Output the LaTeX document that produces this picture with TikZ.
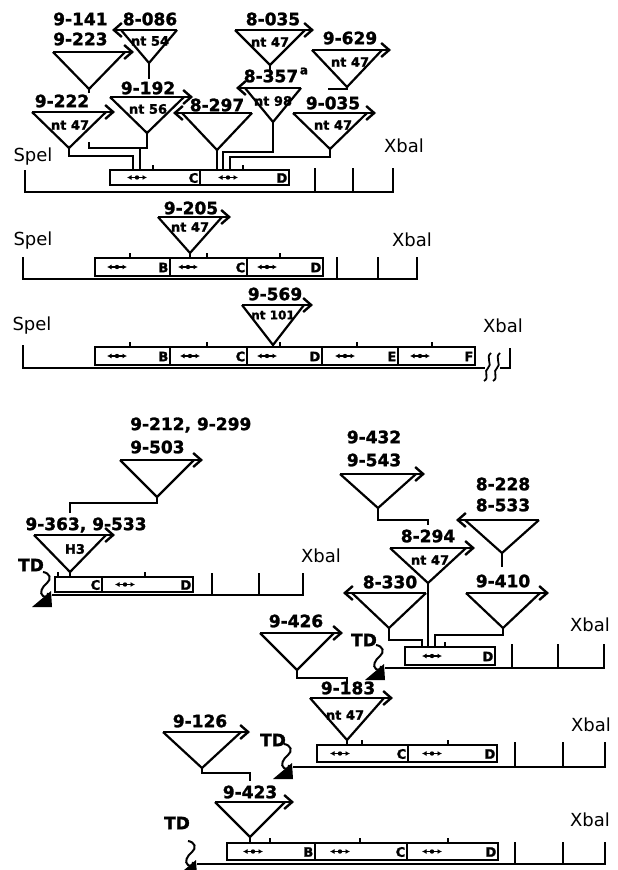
\documentclass[tikz,border=0pt]{standalone}
\usepackage{fontspec}
\setmainfont{DejaVu Sans}[BoldFeatures={FakeBold=1.5}]
\usetikzlibrary{arrows.meta}
\tikzset{
  tri/.style={line width=2.2pt, line join=miter},
  trarr/.style={line width=2.2pt, -{Straight Barb[length=8pt,width=14pt,line width=2.4pt]}},
  base/.style={line width=2.6pt},
  stem/.style={line width=1.6pt},
  tick/.style={line width=1.4pt},
  boxsty/.style={draw, line width=1.5pt, fill=white},
  lab/.style={font=\bfseries\fontsize{17}{17}\selectfont, inner sep=0pt},
  ntl/.style={font=\bfseries\fontsize{13}{13}\selectfont, inner sep=0pt},
  site/.style={font=\fontsize{18}{18}\selectfont, inner sep=0pt},
  bl/.style={font=\bfseries\fontsize{13}{13}\selectfont, inner sep=0pt, anchor=east},
  tdl/.style={font=\bfseries\fontsize{17}{17}\selectfont, inner sep=0pt},
  ar/.style={line width=1.3pt, {Latex[length=4.5pt,width=5pt]}-{Latex[length=4.5pt,width=5pt]}},
}
% triangle: name, cx, top y, half width, height, direction (1 right, -1 left)
\newcommand{\Tri}[6]{%
  \coordinate (#1) at (#2,{#3+#5});
  \fill[white] ({#2-#4},#3) -- (#1) -- ({#2+#4},#3) -- cycle;
  \draw[tri] ({#2-#4},#3) -- (#1) -- ({#2+#4},#3);
  \draw[trarr] ({#2-(#6)*(#4)},#3) -- ({#2+(#6)*(#4+9)},#3);
}
% segment: name, x1, x2, y1, y2, letter, arrow x
\newcommand{\Seg}[7]{%
  \draw[boxsty] (#2,#4) rectangle (#3,#5);
  \node[bl] (#1) at ({#3-1.5},{(#4+#5)/2+0.5}) {#6};
  \draw[ar] ({#7-10},{(#4+#5)/2}) -- ({#7+10},{(#4+#5)/2});
  \fill ({#7},{(#4+#5)/2}) circle (2.2pt);
}
\newcommand{\SegN}[6]{%
  \draw[boxsty] (#2,#4) rectangle (#3,#5);
  \node[bl] (#1) at ({#3-1.5},{(#4+#5)/2+0.5}) {#6};
}
% TD mark at baseline start
\newcommand{\TDmark}[2]{%
  \fill ({#1-20},{#2+12}) -- ({#1-1},{#2-4}) -- ({#1},{#2+12}) -- cycle;
  \draw[line width=2pt] ({#1-9},{#2-23}) .. controls ({#1-2},{#2-22}) and ({#1},{#2-16}) .. ({#1-5},{#2-12}) .. controls ({#1-10},{#2-8}) and ({#1-13},{#2-2}) .. ({#1-9},{#2+1}) .. controls ({#1-6},{#2+3}) and ({#1-4},{#2+1}) .. ({#1-4},{#2-2});
}
\begin{document}
\begin{tikzpicture}[x=1pt,y=-1pt]
\useasboundingbox (0,0) rectangle (618,870);
\clip (0,0) rectangle (618,870);

% ================= Row 1 =================
\draw[base] (25,170) -- (25,192) -- (393,192) -- (393,168);
\draw[base] (315,168) -- (315,192);
\draw[base] (353,168) -- (353,192);
\Seg{r1c}{110}{200}{170}{185}{C}{137}
\Seg{r1d}{200}{289}{170}{185}{D}{228}
\draw[tick] (153,165) -- (153,170);
\draw[tick] (243,165) -- (243,170);

\Tri{a9223}{89}{52}{36}{37}{1}
\Tri{a8086}{149}{30}{28}{33}{-1}
\Tri{a8035}{270}{30}{35}{35}{1}
\Tri{a9629}{347}{50}{35}{37}{1}
\Tri{a9222}{69}{112}{37}{36}{1}
\Tri{a9192}{147}{97}{37}{36}{1}
\Tri{a8297}{217}{113}{35}{37}{-1}
\Tri{a8357}{273}{88}{28}{34}{-1}
\Tri{a9035}{330}{113}{37}{36}{1}

\draw[stem] (a9222) -- (69,156) -- (133,156) -- (133,170);
\coordinate (f1) at (89,142);
\draw[stem] (f1) -- (89,148) -- (140,148) -- (140,170);
\draw[stem] (a9192) -- (147,148) -- (140,148);
\draw[stem] (a8297) -- (217,170);
\draw[stem] (a8357) -- (273,152) -- (223,152) -- (223,170);
\draw[stem] (a9035) -- (330,157) -- (230,157) -- (230,170);
\draw[stem] (a8086) -- (149,79);
\draw[stem] (a8035) -- (270,70);
\draw[stem] (a9223) -- (89,93);
\draw[stem] (a9629) -- (347,89) -- (328,89);

\node[lab,anchor=west] (l9141) at (53,19) {9-141};
\node[lab,anchor=west] (l9223) at (53,39) {9-223};
\node[lab] (l8086) at (150,19) {8-086};
\node[ntl] (n54) at (150,41) {nt 54};
\node[lab] (l8035) at (273,19) {8-035};
\node[ntl] (n47a) at (270,42) {nt 47};
\node[lab] (l9629) at (350,38) {9-629};
\node[ntl] (n47b) at (350,62) {nt 47};
\node[lab] (l9222) at (62,101) {9-222};
\node[ntl] (n47c) at (70,125) {nt 47};
\node[lab] (l9192) at (148,88) {9-192};
\node[ntl] (n56) at (148,109) {nt 56};
\node[lab] (l8297) at (217,105) {8-297};
\node[lab] (l8357) at (271,76) {8-357};
\node[font=\bfseries\fontsize{12}{12}\selectfont, inner sep=0pt] (supa) at (304,71) {a};
\node[ntl] (n98) at (273,101) {nt 98};
\node[lab] (l9035) at (333,103) {9-035};
\node[ntl] (n47d) at (333,125) {nt 47};
\node[site] (spel1) at (33,157) {Spel};
\node[site] (xbal1) at (404,146) {Xbal};

% ================= Row 2 =================
\draw[base] (23,257) -- (23,279) -- (417,279) -- (417,257);
\draw[base] (337,257) -- (337,279);
\draw[base] (378,257) -- (378,279);
\Seg{r2b}{95}{170}{258}{276}{B}{117}
\Seg{r2c}{170}{247}{258}{276}{C}{188}
\Seg{r2d}{247}{323}{258}{276}{D}{267}
\draw[tick] (130,253) -- (130,258);
\draw[tick] (207,253) -- (207,258);
\draw[tick] (280,253) -- (280,258);
\Tri{a9205}{190}{217}{32}{36}{1}
\draw[stem] (a9205) -- (190,258);
\node[lab] (l9205) at (191,208) {9-205};
\node[ntl] (n47e) at (190,227) {nt 47};
\node[site] (spel2) at (33,241) {Spel};
\node[site] (xbal2) at (412,240) {Xbal};

% ================= Row 3 =================
\draw[base] (23,345) -- (23,368) -- (485,368);
\draw[base] (500,368) -- (510,368) -- (510,348);
\draw[line width=1.8pt] (491,353) .. controls (485,357) and (493,365) .. (488,368) .. controls (483,371) and (490,378) .. (484,381);
\draw[line width=1.8pt] (500,353) .. controls (494,357) and (502,365) .. (497,368) .. controls (492,371) and (499,378) .. (493,381);
\Seg{r3b}{95}{170}{347}{365}{B}{117}
\Seg{r3c}{170}{247}{347}{365}{C}{190}
\Seg{r3d}{247}{322}{347}{365}{D}{267}
\Seg{r3e}{322}{398}{347}{365}{E}{345}
\Seg{r3f}{398}{475}{347}{365}{F}{420}
\foreach \t in {130,207,280,357,432} \draw[tick] (\t,342) -- (\t,347);
\Tri{a9569}{273}{305}{31}{40}{1}
\draw[stem] (a9569) -- (273,347);
\node[lab] (l9569) at (275,294) {9-569};
\node[ntl,font=\bfseries\fontsize{12}{12}\selectfont] (n101) at (273,315) {nt 101};
\node[site] (spel3) at (32,326) {Spel};
\node[site] (xbal3) at (503,326) {Xbal};

% ================= Row 4 =================
\draw[base] (52,595) -- (303,595) -- (303,573);
\draw[base] (212,573) -- (212,595);
\draw[base] (259,573) -- (259,595);
\SegN{r4c}{55}{102}{577}{592}{C}
\Seg{r4d}{102}{193}{577}{592}{D}{125}
\draw[tick] (58,572) -- (58,577);
\draw[tick] (145,572) -- (145,577);
\Tri{a9503}{157}{460}{37}{37}{1}
\Tri{aH3}{70}{535}{36}{37}{1}
\draw[stem] (a9503) -- (157,503) -- (70,503) -- (70,513);
\draw[stem] (aH3) -- (70,577);
\node[lab,anchor=west] (l9212) at (130,425) {9-212, 9-299};
\node[lab,anchor=west] (l9503) at (130,447) {9-503};
\node[lab] (l9363) at (86,525) {9-363, 9-533};
\node[ntl] (h3) at (75,549) {H3};
\node[tdl] (td4) at (31,565) {TD};
\TDmark{52}{595}
\node[site] (xbal4) at (321,556) {Xbal};

% ================= Row 5 =================
\draw[base] (385,668) -- (604,668) -- (604,644);
\draw[base] (512,644) -- (512,668);
\draw[base] (558,644) -- (558,668);
\Seg{r5d}{405}{495}{647}{665}{D}{432}
\draw[tick] (445,642) -- (445,647);
\Tri{a9543}{378}{474}{38}{34}{1}
\Tri{a8533}{502}{520}{37}{33}{-1}
\Tri{a8294}{428}{548}{38}{35}{1}
\Tri{a9410}{503}{593}{37}{35}{1}
\Tri{a8330}{389}{593}{37}{35}{-1}
\draw[stem] (a9543) -- (378,520) -- (428,520) -- (428,525);
\draw[stem] (a8294) -- (428,647);
\draw[stem] (a8533) -- (502,567);
\draw[stem] (a9410) -- (503,635) -- (435,635) -- (435,647);
\draw[stem] (a8330) -- (389,640) -- (422,640) -- (422,647);
\node[lab] (l9432) at (374,437) {9-432};
\node[lab] (l9543) at (374,460) {9-543};
\node[lab] (l8228) at (503,484) {8-228};
\node[lab] (l8533) at (503,505) {8-533};
\node[lab] (l8294) at (428,536) {8-294};
\node[ntl] (n47f) at (430,560) {nt 47};
\node[lab] (l9410) at (503,581) {9-410};
\node[lab] (l8330) at (390,582) {8-330};
\node[tdl] (td5) at (364,640) {TD};
\TDmark{385}{668}
\node[site] (xbal5) at (590,625) {Xbal};

% ================= Row 6 =================
\Tri{a9426}{297}{633}{37}{37}{1}
\draw[stem] (a9426) -- (297,678) -- (347,678) -- (347,684);
\node[lab] (l9426) at (296,621) {9-426};
\draw[base] (293,767) -- (605,767) -- (605,742);
\draw[base] (515,742) -- (515,767);
\draw[base] (563,742) -- (563,767);
\Seg{r6c}{317}{408}{745}{762}{C}{340}
\Seg{r6d}{408}{497}{745}{762}{D}{432}
\draw[tick] (362,740) -- (362,745);
\draw[tick] (448,740) -- (448,745);
\Tri{a9183}{347}{698}{37}{42}{1}
\draw[stem] (a9183) -- (347,745);
\node[lab] (l9183) at (348,688) {9-183};
\node[ntl] (n47g) at (345,715) {nt 47};
\Tri{a9126}{202}{732}{39}{36}{1}
\draw[stem] (a9126) -- (202,773) -- (250,773) -- (250,781);
\node[lab] (l9126) at (200,721) {9-126};
\node[tdl] (td6) at (273,740) {TD};
\TDmark{293}{767}
\node[site] (xbal6) at (591,725) {Xbal};

% ================= Row 7 =================
\draw[base] (197,864) -- (605,864) -- (605,842);
\draw[base] (515,842) -- (515,864);
\draw[base] (563,842) -- (563,864);
\Seg{r7b}{227}{315}{843}{860}{B}{253}
\Seg{r7c}{315}{407}{843}{860}{C}{340}
\Seg{r7d}{407}{498}{843}{860}{D}{432}
\foreach \t in {270,360,448} \draw[tick] (\t,838) -- (\t,843);
\Tri{a9423}{250}{802}{35}{35}{1}
\draw[stem] (a9423) -- (250,843);
\node[lab] (l9423) at (250,792) {9-423};
\node[tdl] (td7) at (177,823) {TD};
\TDmark{197}{864}
\node[site] (xbal7) at (590,820) {Xbal};
\end{tikzpicture}
\end{document}
